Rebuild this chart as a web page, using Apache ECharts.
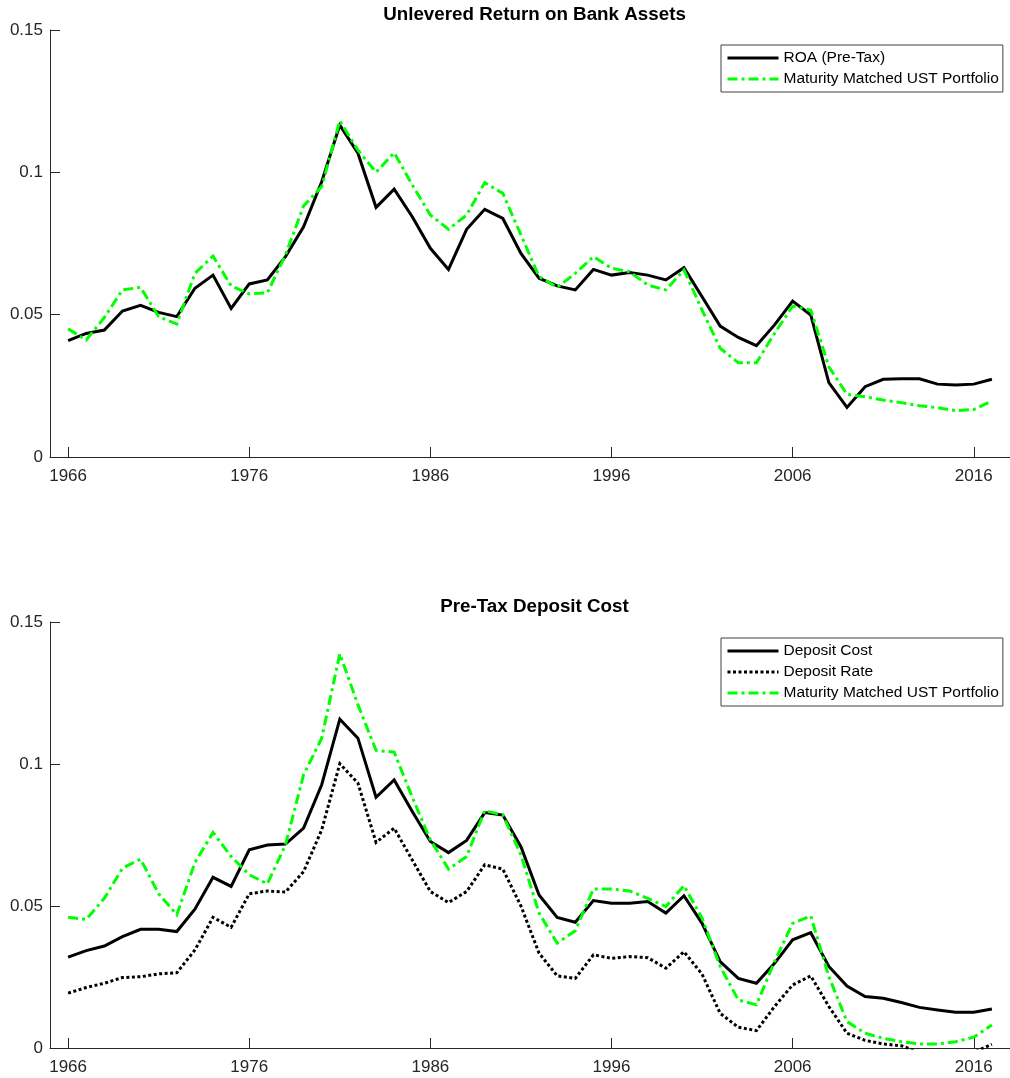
<!DOCTYPE html>
<html>
<head>
<meta charset="utf-8">
<title>Bank Assets and Deposit Cost</title>
<script src="https://cdn.jsdelivr.net/npm/echarts@6/dist/echarts.min.js"></script>
<style>
  html, body { margin: 0; padding: 0; background: #ffffff; }
  #chart { width: 1010px; height: 1078px; }
</style>
</head>
<body>
<div id="chart"></div>
<script>
// Years of observation
const years = [
  1966, 1967, 1968, 1969, 1970, 1971, 1972, 1973, 1974, 1975,
  1976, 1977, 1978, 1979, 1980, 1981, 1982, 1983, 1984, 1985,
  1986, 1987, 1988, 1989, 1990, 1991, 1992, 1993, 1994, 1995,
  1996, 1997, 1998, 1999, 2000, 2001, 2002, 2003, 2004, 2005,
  2006, 2007, 2008, 2009, 2010, 2011, 2012, 2013, 2014, 2015,
  2016, 2017
];

// Panel 1: unlevered return on bank assets
const roaPreTax = [
  0.0409, 0.0434, 0.0446, 0.0513, 0.0533, 0.0508, 0.0493, 0.0593, 0.0639, 0.0522,
  0.0608, 0.0622, 0.0704, 0.0809, 0.0967, 0.1166, 0.1067, 0.0877, 0.0941, 0.0844,
  0.0733, 0.0659, 0.0800, 0.0870, 0.0838, 0.0715, 0.0628, 0.0601, 0.0587, 0.0659,
  0.0639, 0.0648, 0.0639, 0.0622, 0.0665, 0.0563, 0.0460, 0.0420, 0.0391, 0.0464,
  0.0548, 0.0499, 0.0261, 0.0174, 0.0247, 0.0273, 0.0275, 0.0275, 0.0256, 0.0253,
  0.0256, 0.0273
];
const ustAssets = [
  0.0450, 0.0411, 0.0490, 0.0587, 0.0596, 0.0493, 0.0467, 0.0645, 0.0706, 0.0601,
  0.0573, 0.0577, 0.0710, 0.0882, 0.0950, 0.1181, 0.1078, 0.1000, 0.1069, 0.0956,
  0.0850, 0.0800, 0.0850, 0.0964, 0.0926, 0.0780, 0.0634, 0.0596, 0.0645, 0.0704,
  0.0663, 0.0651, 0.0604, 0.0587, 0.0657, 0.0516, 0.0382, 0.0331, 0.0331, 0.0434,
  0.0530, 0.0516, 0.0317, 0.0220, 0.0212, 0.0200, 0.0191, 0.0180, 0.0173, 0.0163,
  0.0167, 0.0197
];

// Panel 2: pre-tax deposit cost
const depositCost = [
  0.0320, 0.0343, 0.0359, 0.0392, 0.0418, 0.0418, 0.0410, 0.0489, 0.0601, 0.0569,
  0.0698, 0.0715, 0.0718, 0.0774, 0.0927, 0.1158, 0.1091, 0.0883, 0.0944, 0.0833,
  0.0727, 0.0688, 0.0731, 0.0829, 0.0820, 0.0709, 0.0539, 0.0460, 0.0443, 0.0519,
  0.0510, 0.0510, 0.0516, 0.0475, 0.0536, 0.0439, 0.0304, 0.0245, 0.0228, 0.0298,
  0.0381, 0.0406, 0.0287, 0.0218, 0.0181, 0.0175, 0.0160, 0.0143, 0.0134, 0.0126,
  0.0126, 0.0137
];
const depositRate = [
  0.0193, 0.0213, 0.0228, 0.0248, 0.0251, 0.0261, 0.0265, 0.0345, 0.0460, 0.0425,
  0.0543, 0.0553, 0.0549, 0.0621, 0.0768, 0.1001, 0.0933, 0.0724, 0.0774, 0.0662,
  0.0551, 0.0512, 0.0551, 0.0645, 0.0630, 0.0500, 0.0334, 0.0254, 0.0245, 0.0328,
  0.0316, 0.0322, 0.0318, 0.0281, 0.0339, 0.0260, 0.0122, 0.0073, 0.0061, 0.0146,
  0.0222, 0.0254, 0.0146, 0.0052, 0.0027, 0.0014, 0.0008, -0.0015, -0.0020, -0.0020,
  -0.0015, 0.0013
];
const ustDeposits = [
  0.0460, 0.0453, 0.0527, 0.0633, 0.0665, 0.0543, 0.0469, 0.0653, 0.0759, 0.0674,
  0.0610, 0.0578, 0.0715, 0.0962, 0.1091, 0.1388, 0.1209, 0.1048, 0.1042, 0.0883,
  0.0733, 0.0630, 0.0674, 0.0836, 0.0821, 0.0680, 0.0475, 0.0369, 0.0413, 0.0560,
  0.0560, 0.0553, 0.0527, 0.0498, 0.0572, 0.0457, 0.0287, 0.0169, 0.0152, 0.0304,
  0.0439, 0.0465, 0.0251, 0.0093, 0.0052, 0.0034, 0.0022, 0.0014, 0.0014, 0.0022,
  0.0038, 0.0081
];

// Axis ticks
const yearTicks = [1966, 1976, 1986, 1996, 2006, 2016];
const rateTicks = [0, 0.05, 0.1, 0.15];

const UST_NAME = 'Maturity Matched UST Portfolio';
const FONT = '"Liberation Sans", Arial, Helvetica, sans-serif';
const AXIS_GRAY = '#262626';
const GREEN = '#00ff00';
const DASH_DOT = [10, 4, 3, 4];
const DOTS = [3, 2.5];

const pairs = (vals) => years.map((y, i) => [y, vals[i]]);

function makeX(gridIndex) {
  return {
    type: 'value',
    gridIndex,
    min: 1965,
    max: 2018,
    axisLine: { onZero: false, lineStyle: { color: AXIS_GRAY, width: 1 } },
    axisTick: { inside: true, length: 10, customValues: yearTicks, lineStyle: { color: AXIS_GRAY } },
    axisLabel: {
      customValues: yearTicks,
      margin: 11,
      fontSize: 17,
      fontFamily: FONT,
      color: AXIS_GRAY,
      formatter: (v) => String(v)
    },
    splitLine: { show: false }
  };
}

function makeY(gridIndex) {
  return {
    type: 'value',
    gridIndex,
    min: rateTicks[0],
    max: rateTicks[rateTicks.length - 1],
    interval: 0.05,
    axisLine: { show: true, onZero: false, lineStyle: { color: AXIS_GRAY, width: 1 } },
    axisTick: { show: true, inside: true, length: 10, lineStyle: { color: AXIS_GRAY } },
    axisLabel: {
      margin: 7,
      fontSize: 17,
      fontFamily: FONT,
      color: AXIS_GRAY,
      formatter: (v) => String(+v.toFixed(4))
    },
    splitLine: { show: false }
  };
}

function lineSeries(name, vals, idx, color, type) {
  return {
    name,
    type: 'line',
    xAxisIndex: idx,
    yAxisIndex: idx,
    data: pairs(vals),
    symbol: 'none',
    clip: true,
    lineStyle: { color, width: 3, type, cap: 'butt', join: 'miter' },
    itemStyle: { color },
    emphasis: { disabled: true }
  };
}

const legendCommon = {
  orient: 'vertical',
  left: 721,
  itemWidth: 51,
  itemHeight: 14,
  itemGap: 5,
  padding: [5, 4, 5, 5],
  borderColor: '#404040',
  borderWidth: 1,
  backgroundColor: '#ffffff',
  selectedMode: false,
  itemStyle: { opacity: 0, borderWidth: 0 },
  lineStyle: { width: 3 },
  textStyle: { fontSize: 15.5, fontFamily: FONT, color: '#000000' }
};

const chart = echarts.init(document.getElementById('chart'), null, { renderer: 'canvas' });

chart.setOption({
  animation: false,
  backgroundColor: '#ffffff',
  title: [
    {
      text: 'Unlevered Return on Bank Assets',
      left: 534.5,
      top: 5,
      padding: 0,
      textAlign: 'center',
      textStyle: { fontSize: 18.8, fontWeight: 'bold', fontFamily: FONT, color: '#000000' }
    },
    {
      text: 'Pre-Tax Deposit Cost',
      left: 534.5,
      top: 597,
      padding: 0,
      textAlign: 'center',
      textStyle: { fontSize: 18.8, fontWeight: 'bold', fontFamily: FONT, color: '#000000' }
    }
  ],
  legend: [
    Object.assign({}, legendCommon, {
      top: 45,
      data: ['ROA (Pre-Tax)', UST_NAME]
    }),
    Object.assign({}, legendCommon, {
      top: 638,
      data: ['Deposit Cost', 'Deposit Rate', UST_NAME]
    })
  ],
  grid: [
    { left: 50, top: 30, width: 969, height: 427 },
    { left: 50, top: 622, width: 969, height: 426 }
  ],
  xAxis: [makeX(0), makeX(1)],
  yAxis: [makeY(0), makeY(1)],
  series: [
    lineSeries('ROA (Pre-Tax)', roaPreTax, 0, '#000000', 'solid'),
    lineSeries(UST_NAME, ustAssets, 0, GREEN, DASH_DOT),
    lineSeries('Deposit Cost', depositCost, 1, '#000000', 'solid'),
    lineSeries('Deposit Rate', depositRate, 1, '#000000', DOTS),
    lineSeries(UST_NAME, ustDeposits, 1, GREEN, DASH_DOT)
  ]
});
</script>
</body>
</html>
